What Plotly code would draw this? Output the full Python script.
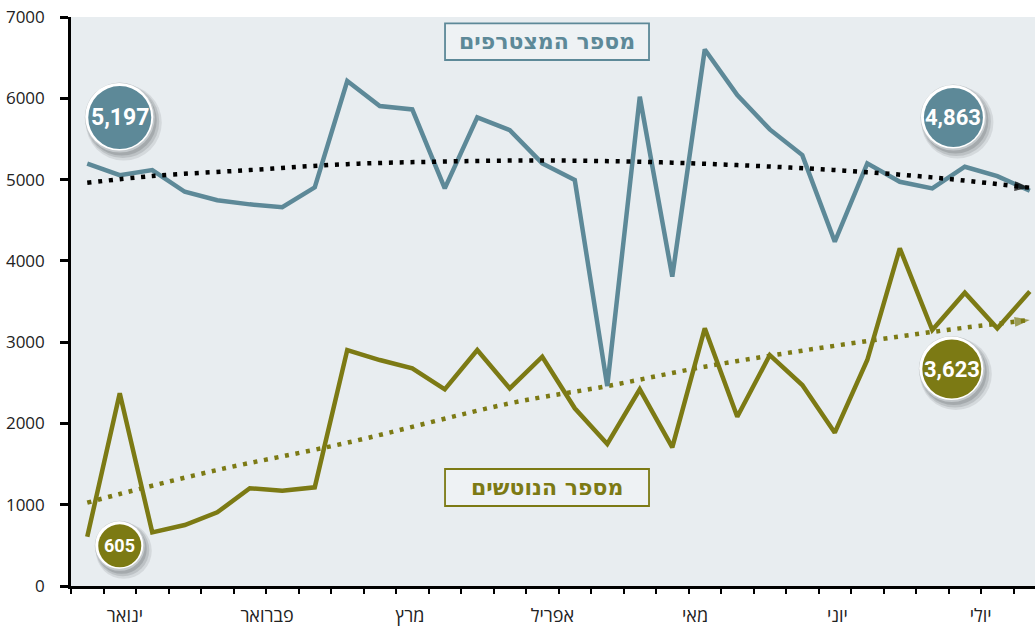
import plotly.graph_objects as go

# ---- data (weekly points, Jan-Jul) ----
weeks = list(range(30))
joined = [5197, 5055, 5117, 4850, 4745, 4695, 4660, 4904, 6212, 5904,
          5863, 4892, 5765, 5609, 5199, 4994, 2460, 6019, 3805, 6601,
          6039, 5617, 5301, 4235, 5199, 4973, 4892, 5158, 5043, 4863]
left = [605, 2370, 660, 750, 906, 1202, 1172, 1214, 2903, 2780,
        2677, 2419, 2903, 2431, 2821, 2186, 1747, 2419, 1706, 3170,
        2083, 2841, 2472, 1886, 2780, 4154, 3149, 3608, 3170, 3623]

joined_trend_x = [0, 2, 5, 8, 11, 14, 17, 20, 23, 26, 29]
joined_trend = [4960, 5043, 5117, 5190, 5222, 5235, 5219, 5178, 5117, 5027, 4900]
left_trend_x = [0, 1, 4, 8, 13, 16, 19, 22, 25, 27, 29]
left_trend = [1025, 1132, 1427, 1763, 2247, 2460, 2698, 2895, 3070, 3178, 3272]

months = ["ינואר", "פברואר", "מרץ", "אפריל", "מאי", "יוני", "יולי"]
month_pos = [1.16, 5.53, 9.93, 14.31, 18.7, 23.08, 27.49]
yticks = [0, 1000, 2000, 3000, 4000, 5000, 6000, 7000]

legend_joined = "מספר המצטרפים"
legend_left = "מספר הנוטשים"

BLUE = "#5d8998"
OLIVE = "#7c7a14"
# badges: (label, x, y, radius, colour, font size)
badges = [
    ("5,197", 1.0, 5763, 35, BLUE, 23),
    ("4,863", 26.65, 5763, 33, BLUE, 22),
    ("605", 1.0, 494, 25, OLIVE, 18),
    ("3,623", 26.6, 2669, 33, OLIVE, 22),
]

fig = go.Figure()

fig.add_trace(go.Scatter(x=weeks, y=left, mode="lines",
                         line=dict(color=OLIVE, width=4.5), hoverinfo="skip"))
fig.add_trace(go.Scatter(x=left_trend_x, y=left_trend, mode="lines",
                         line=dict(color=OLIVE, width=4.5, dash="4px,6.7px", shape="spline"),
                         hoverinfo="skip"))
fig.add_trace(go.Scatter(x=left_trend_x[-2:], y=left_trend[-2:], mode="markers",
                         cliponaxis=False,
                         marker=dict(symbol="arrow", angleref="previous", size=[0, 16],
                                     color=OLIVE, line=dict(width=0)),
                         hoverinfo="skip"))
fig.add_trace(go.Scatter(x=weeks, y=joined, mode="lines",
                         line=dict(color=BLUE, width=4.5), hoverinfo="skip"))
fig.add_trace(go.Scatter(x=joined_trend_x, y=joined_trend, mode="lines",
                         line=dict(color="black", width=4.5, dash="4px,6.8px", shape="spline"),
                         hoverinfo="skip"))
fig.add_trace(go.Scatter(x=joined_trend_x[-2:], y=joined_trend[-2:], mode="markers",
                         cliponaxis=False,
                         marker=dict(symbol="arrow", angleref="previous", size=[0, 16],
                                     color="black", line=dict(width=0)),
                         hoverinfo="skip"))
# dummy trace for month axis
fig.add_trace(go.Scatter(x=[month_pos[0]], y=[None], xaxis="x2", mode="markers",
                         marker=dict(opacity=0), hoverinfo="skip"))

shapes = []
annotations = []
for label, cx, cy, r, col, fs in badges:
    base = dict(type="circle", xref="x", yref="y", xsizemode="pixel", ysizemode="pixel",
                xanchor=cx, yanchor=cy, layer="above")
    for off, extra, op in [(4, 3, 0.16), (3, 1.5, 0.22), (2, 0, 0.3)]:
        shapes.append(dict(base, x0=-r - extra + off, x1=r + extra + off,
                           y0=-r - extra - off - 1, y1=r + extra - off - 1,
                           fillcolor="#6d7377", opacity=op, line=dict(width=0)))
    shapes.append(dict(base, x0=-r, x1=r, y0=-r, y1=r,
                       fillcolor="#c3c8cb", line=dict(width=0)))
    shapes.append(dict(base, x0=-r + 0.5, x1=r - 1.5, y0=-r + 2, y1=r - 0.5,
                       fillcolor="#ffffff", line=dict(width=0)))
    shapes.append(dict(base, x0=-r + 3.5, x1=r - 3.5, y0=-r + 3.5, y1=r - 3.5,
                       fillcolor=col, line=dict(width=0)))
    annotations.append(dict(x=cx, y=cy, xref="x", yref="y", text=label, showarrow=False,
                            font=dict(family="Roboto, Liberation Sans, sans-serif",
                                      size=fs, color="white", weight="bold"),
                            xanchor="center", yanchor="middle"))

for (txt, col, y0, y1) in [(legend_joined, BLUE, 0.9244, 0.9889),
                           (legend_left, OLIVE, 0.1406, 0.2056)]:
    shapes.append(dict(type="rect", xref="paper", yref="paper", x0=0.388, x1=0.5996,
                       y0=y0, y1=y1, fillcolor="#eef2f4", line=dict(color=col, width=1.8),
                       layer="below"))
    annotations.append(dict(x=0.494, y=(y0 + y1) / 2, xref="paper", yref="paper", text=txt,
                            showarrow=False, xanchor="center", yanchor="middle",
                            font=dict(family="DejaVu Sans, Noto Sans, sans-serif", size=22,
                                      color=col, weight="bold")))

fig.update_layout(
    width=1035, height=626,
    margin=dict(l=71, r=0, t=17, b=40, autoexpand=False),
    paper_bgcolor="white",
    plot_bgcolor="#e8edf0",
    showlegend=False,
    shapes=shapes,
    annotations=annotations,
    xaxis=dict(range=[-0.5, 29.16], tickmode="array", automargin=False,
               tickvals=[k - 0.5 for k in range(31)], showticklabels=False,
               ticks="outside", ticklen=5, tickwidth=2.2, tickcolor="black",
               showline=True, linecolor="black", linewidth=2.6, showgrid=False,
               zeroline=False, fixedrange=True),
    xaxis2=dict(range=[-0.5, 29.16], overlaying="x", anchor="y", side="bottom",
                automargin=False,
                tickmode="array", tickvals=month_pos, ticktext=months, ticks="",
                showline=False, showgrid=False, zeroline=False, ticklabelstandoff=17,
                tickfont=dict(family="Open Sans, DejaVu Sans, sans-serif", size=18,
                              color="#222")),
    yaxis=dict(range=[0, 7000], tickmode="array", tickvals=yticks, automargin=False,
               ticktext=[str(v) for v in yticks],
               ticks="outside", ticklen=8, tickwidth=2.6, tickcolor="black",
               showline=True, linecolor="black", linewidth=2.6, showgrid=False,
               zeroline=False, ticklabelstandoff=12,
               tickfont=dict(family="Open Sans, DejaVu Sans, sans-serif", size=17,
                             color="#222")),
)

fig.write_html("out.html", config={"responsive": False, "displayModeBar": False},
               post_script="document.body.style.margin='0';document.body.style.overflow='hidden';")
